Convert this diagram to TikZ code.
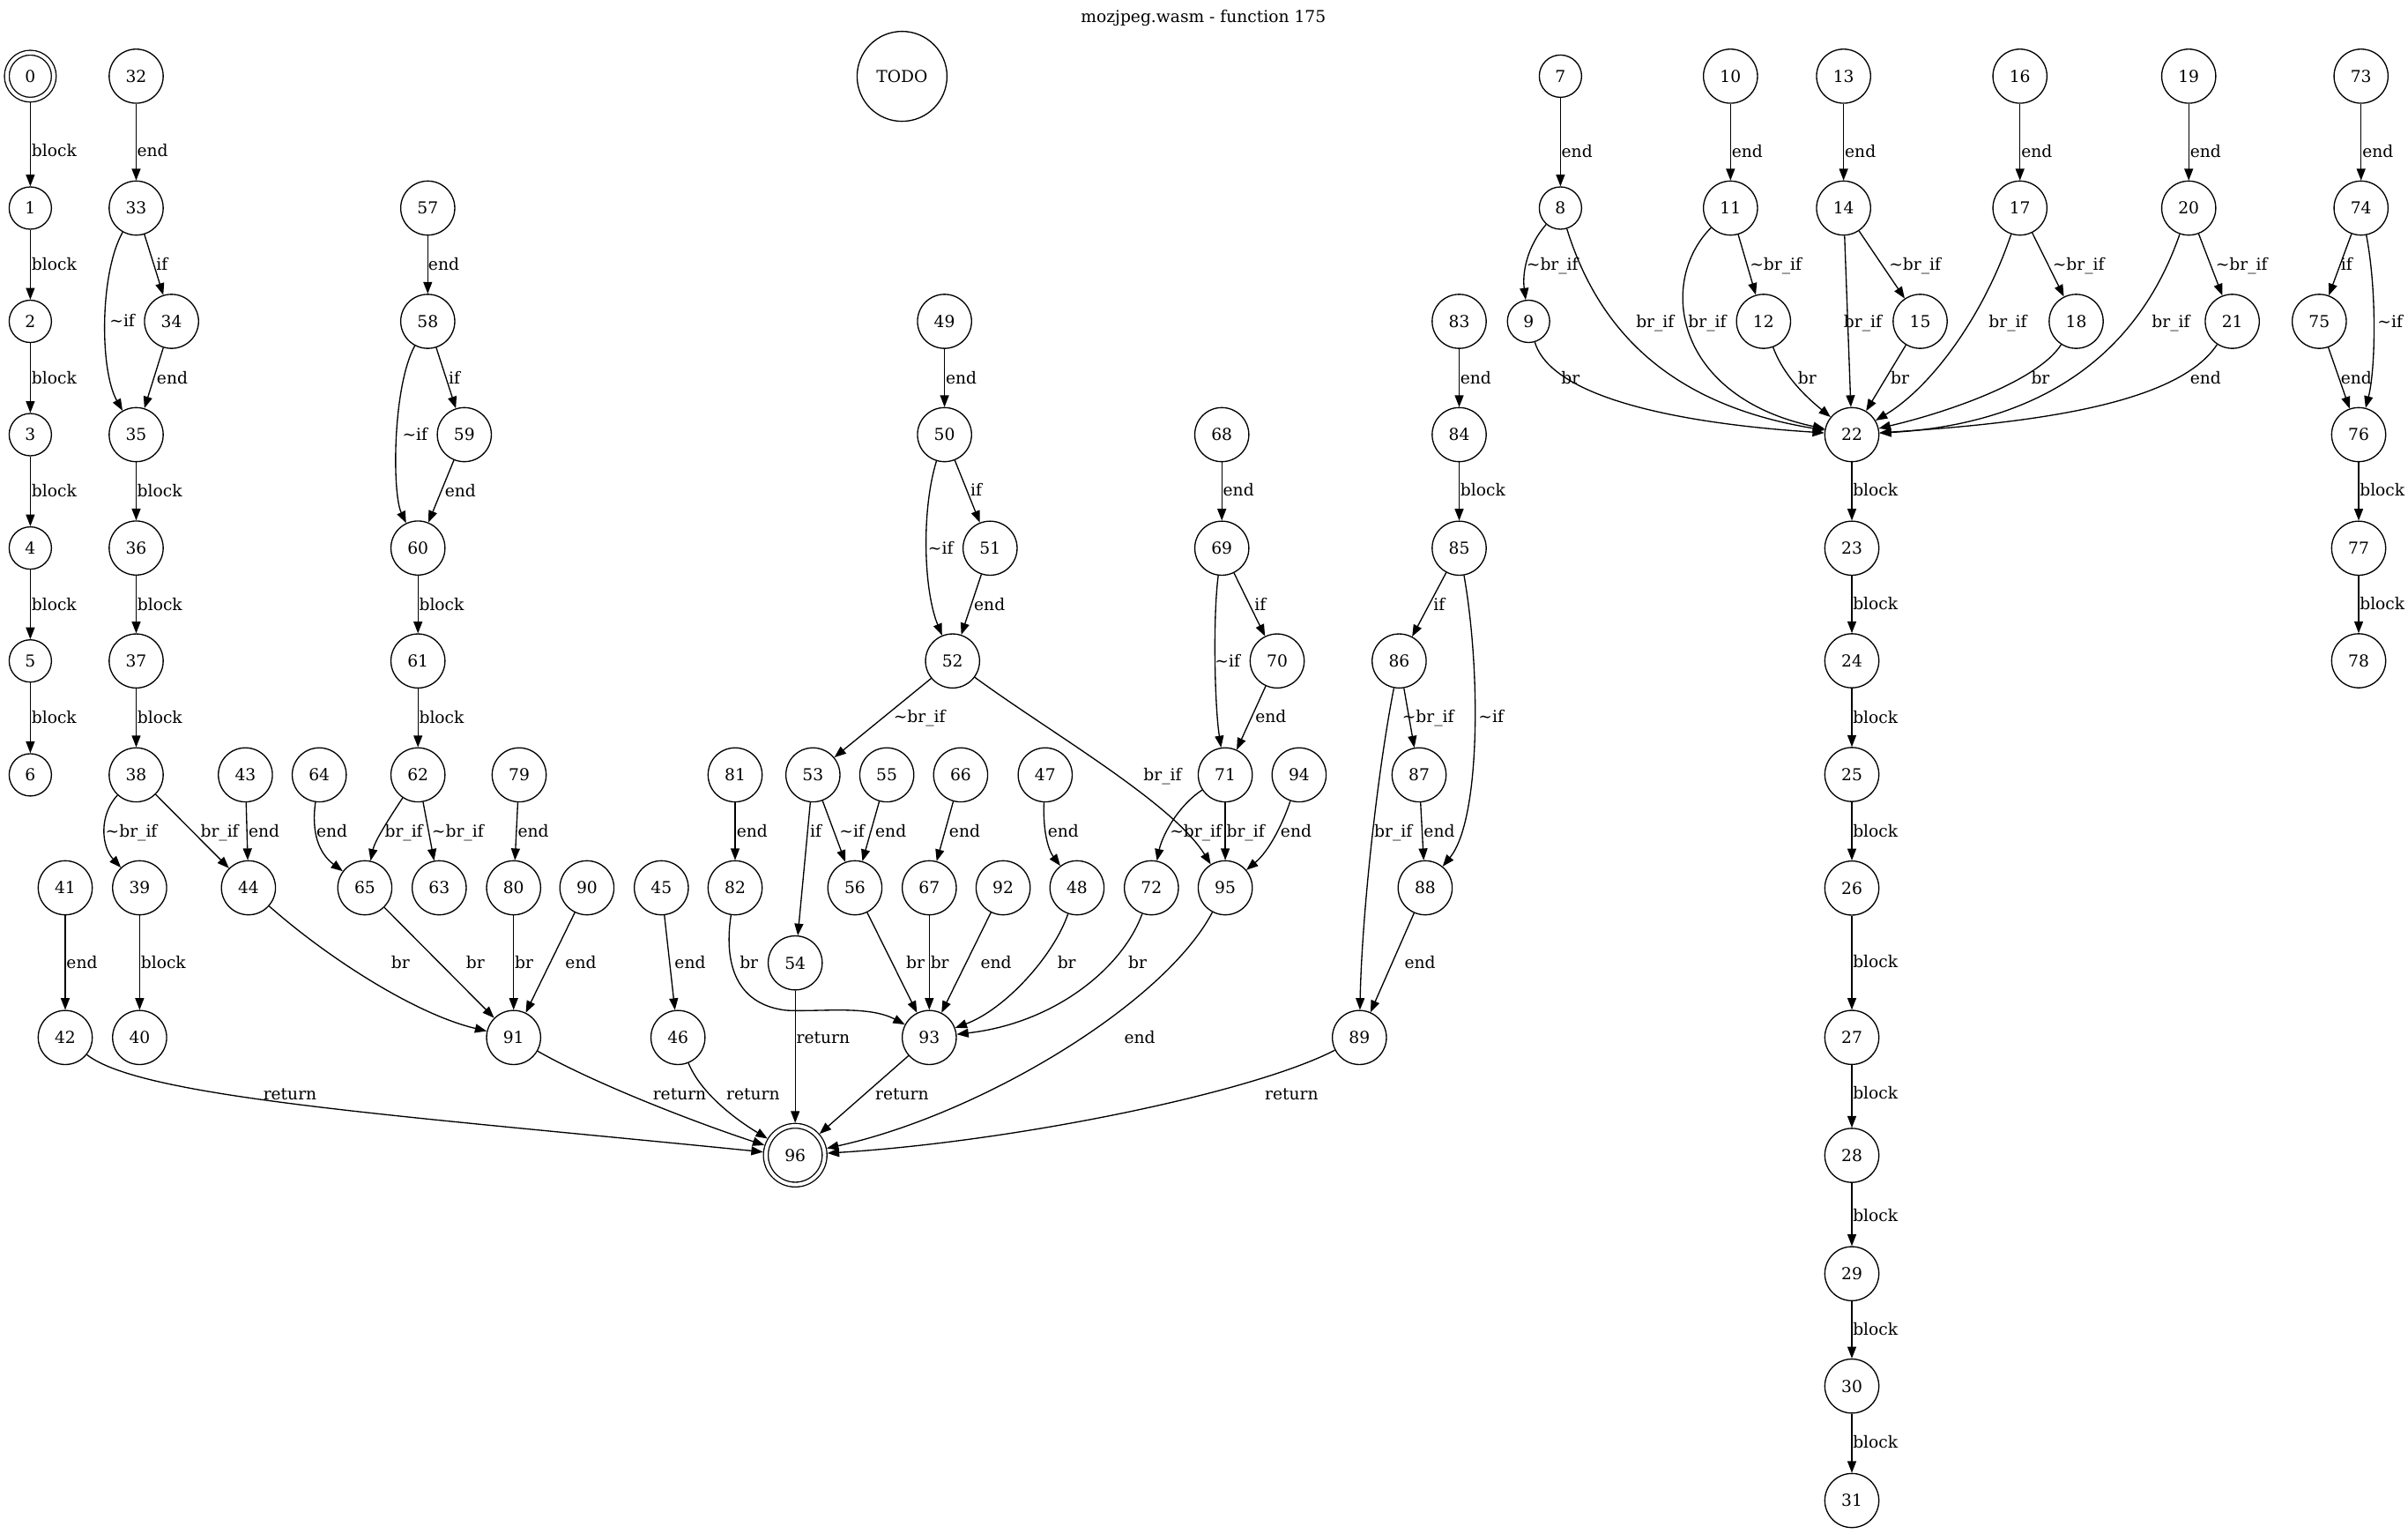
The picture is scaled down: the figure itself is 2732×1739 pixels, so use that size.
\documentclass[tikz,border=0pt]{standalone}
\usepackage{fontspec}
\setmainfont{DejaVu Serif}
\usetikzlibrary{arrows.meta}
\newcommand{\fs}{\fontsize{14pt}{16pt}\selectfont}
\newcommand{\tl}{\textasciitilde}
\begin{document}
\begin{tikzpicture}[x=0.75pt,y=-0.75pt,
 nd/.style={circle, draw, line width=1pt, inner sep=0pt, minimum size=36pt, font=\fs},
 nn/.style={nd, minimum size=46pt},
 dbl/.style={double, double distance=3pt, outer sep=2.5pt},
 lb/.style={anchor=west, inner sep=0pt, font=\fs, text height=10pt, text depth=0pt},
 e/.style={line width=1pt, -{Triangle[length=10pt,width=7.5pt]}}]
\useasboundingbox (0,0) rectangle (2732,1739);
\node[font=\fs] (title) at (1365.3,20) {mozjpeg.wasm - function 175};
% ---------- nodes ----------
\node[nd,dbl,minimum size=40pt] (n0) at (34.4,86.4) {0};
\node[nd] (n1) at (34.4,236) {1};
\node[nd] (n2) at (34.4,364.5) {2};
\node[nd] (n3) at (34.4,493) {3};
\node[nd] (n4) at (34.4,621.6) {4};
\node[nd] (n5) at (34.4,749.7) {5};
\node[nd] (n6) at (34.4,878.9) {6};
\node[nn] (n32) at (154.5,86.4) {32};
\node[nn] (n33) at (154.5,236) {33};
\node[nn] (n34) at (194.6,364.5) {34};
\node[nn] (n35) at (154.5,493) {35};
\node[nn] (n36) at (154.5,621.6) {36};
\node[nn] (n37) at (154.5,749.7) {37};
\node[nn] (n38) at (154.5,878.9) {38};
\node[nn] (n39) at (158.4,1007) {39};
\node[nn] (n40) at (158.4,1176.8) {40};
\node[nn] (n41) at (74,1007) {41};
\node[nn] (n42) at (74,1176.8) {42};
\node[nn] (n43) at (278.4,878.9) {43};
\node[nn] (n44) at (281.9,1007) {44};
\node[nn] (n57) at (485.3,236) {57};
\node[nn] (n58) at (485.3,364.5) {58};
\node[nn] (n59) at (526.8,493) {59};
\node[nn] (n60) at (474.2,621.6) {60};
\node[nn] (n61) at (474.2,749.7) {61};
\node[nn] (n62) at (474.2,878.9) {62};
\node[nn] (n63) at (498.3,1007) {63};
\node[nn] (n64) at (362.2,878.9) {64};
\node[nn] (n65) at (413.9,1007) {65};
\node[nn] (n79) at (589,878.9) {79};
\node[nn] (n80) at (582.7,1007) {80};
\node[nn] (n90) at (665.9,1007) {90};
\node[nn] (n91) at (582.7,1176.8) {91};
\node[nn] (n45) at (750.3,1007) {45};
\node[nn] (n46) at (769.2,1176.8) {46};
\node[nn] (n81) at (834,878.9) {81};
\node[nn] (n82) at (834,1007) {82};
\node[nn] (n53) at (922.3,878.9) {53};
\node[nn] (n54) at (902.2,1092.2) {54};
\node[nn] (n55) at (1006.1,878.9) {55};
\node[nn] (n56) at (969.9,1007) {56};
\node[nn] (n66) at (1089.9,878.9) {66};
\node[nn] (n67) at (1054.3,1007) {67};
\node[nn] (n92) at (1138.1,1007) {92};
\node[nn] (n47) at (1185.8,878.9) {47};
\node[nn] (n48) at (1221.9,1007) {48};
\node[nn] (n93) at (1054.3,1176.8) {93};
\node[nn,dbl,minimum size=50pt] (n96) at (902.2,1310.3) {96};
\node[nn] (n49) at (1071.6,364.5) {49};
\node[nn] (n50) at (1071.6,493) {50};
\node[nn] (n51) at (1123.3,621.8) {51};
\node[nn] (n52) at (1080.7,749.7) {52};
\node[nn] (n68) at (1386.2,493) {68};
\node[nn] (n69) at (1386.2,621.8) {69};
\node[nn] (n70) at (1449,749.7) {70};
\node[nn] (n71) at (1390.1,878.9) {71};
\node[nn] (n72) at (1306.3,1007) {72};
\node[nn] (n94) at (1473.9,878.9) {94};
\node[nn] (n95) at (1390.1,1007) {95};
\node[nn] (n83) at (1655.5,364.5) {83};
\node[nn] (n84) at (1655.5,493) {84};
\node[nn] (n85) at (1655.5,621.8) {85};
\node[nn] (n86) at (1587.4,749.7) {86};
\node[nn] (n87) at (1610,878.9) {87};
\node[nn] (n88) at (1616.9,1007) {88};
\node[nn] (n89) at (1542.3,1176.8) {89};
\node[nd,minimum size=76.5pt] (todo) at (1023.4,86.6) {TODO};
\node[nd] (n7) at (1770.4,86.4) {7};
\node[nd] (n8) at (1770.4,236) {8};
\node[nd] (n9) at (1734.2,364.5) {9};
\node[nn] (n10) at (1963.3,86.4) {10};
\node[nn] (n11) at (1963.3,236) {11};
\node[nn] (n12) at (2000.8,364.5) {12};
\node[nn] (n13) at (2091.6,86.4) {13};
\node[nn] (n14) at (2091.6,236) {14};
\node[nn] (n15) at (2178.5,364.5) {15};
\node[nn] (n16) at (2291.7,86.4) {16};
\node[nn] (n17) at (2291.7,236) {17};
\node[nn] (n18) at (2355.5,364.5) {18};
\node[nn] (n19) at (2483.2,86.4) {19};
\node[nn] (n20) at (2483.2,236) {20};
\node[nn] (n21) at (2532.6,364.5) {21};
\node[nn] (n22) at (2101,493) {22};
\node[nn] (n23) at (2101,621.8) {23};
\node[nn] (n24) at (2101,749.5) {24};
\node[nn] (n25) at (2101,878.5) {25};
\node[nn] (n26) at (2101,1007.3) {26};
\node[nn] (n27) at (2101,1176.7) {27};
\node[nn] (n28) at (2101,1310.5) {28};
\node[nn] (n29) at (2101,1444.7) {29};
\node[nn] (n30) at (2101,1572.2) {30};
\node[nn] (n31) at (2101,1702) {31};
\node[nn] (n73) at (2678.7,86.4) {73};
\node[nn] (n74) at (2678.7,236) {74};
\node[nn] (n75) at (2631.3,364.5) {75};
\node[nn] (n76) at (2676,493) {76};
\node[nn] (n77) at (2676,621.8) {77};
\node[nn] (n78) at (2676,749.5) {78};
% ---------- edges ----------
\draw[e] (n0) -- (n1);
\draw[e] (n1) -- (n2);
\draw[e] (n2) -- (n3);
\draw[e] (n3) -- (n4);
\draw[e] (n4) -- (n5);
\draw[e] (n5) -- (n6);
\draw[e] (n32) -- (n33);
\draw[e] (n33) -- (n34);
\draw[e] (n33) .. controls (113,310) and (113,420) .. (n35);
\draw[e] (n34) -- (n35);
\draw[e] (n35) -- (n36);
\draw[e] (n36) -- (n37);
\draw[e] (n37) -- (n38);
\draw[e] (n38) .. controls (112,925) and (115,960) .. (n39);
\draw[e] (n38) -- (n44);
\draw[e] (n43) -- (n44);
\draw[e] (n39) -- (n40);
\draw[e] (n41) -- (n42);
\draw[e] (n42) .. controls (160,1245) and (450,1265) .. (n96);
\draw[e] (n44) .. controls (370,1085) and (470,1150) .. (n91);
\draw[e] (n57) -- (n58);
\draw[e] (n58) -- (n59);
\draw[e] (n58) .. controls (445,440) and (445,560) .. (n60);
\draw[e] (n59) -- (n60);
\draw[e] (n60) -- (n61);
\draw[e] (n61) -- (n62);
\draw[e] (n62) .. controls (437,935) and (425,955) .. (n65);
\draw[e] (n62) -- (n63);
\draw[e] (n64) .. controls (353,945) and (362,968) .. (n65);
\draw[e] (n65) -- (n91);
\draw[e] (n79) -- (n80);
\draw[e] (n80) -- (n91);
\draw[e] (n90) -- (n91);
\draw[e] (n91) .. controls (680,1232) and (800,1277) .. (n96);
\draw[e] (n45) -- (n46);
\draw[e] (n46) .. controls (795,1240) and (835,1270) .. (n96);
\draw[e] (n81) -- (n82);
\draw[e] (n82) .. controls (820,1100) and (840,1140) .. (892,1146) .. controls (930,1148) and (985,1140) .. (n93);
\draw[e] (n49) -- (n50);
\draw[e] (n50) -- (n51);
\draw[e] (n50) .. controls (1045,580) and (1048,670) .. (n52);
\draw[e] (n51) -- (n52);
\draw[e] (n52) -- (n53);
\draw[e] (n52) .. controls (1190,830) and (1330,910) .. (n95);
\draw[e] (n53) -- (n54);
\draw[e] (n53) -- (n56);
\draw[e] (n55) -- (n56);
\draw[e] (n66) -- (n67);
\draw[e] (n47) .. controls (1183,945) and (1190,965) .. (n48);
\draw[e] (n56) -- (n93);
\draw[e] (n67) -- (n93);
\draw[e] (n92) -- (n93);
\draw[e] (n48) .. controls (1195,1085) and (1140,1145) .. (n93);
\draw[e] (n72) .. controls (1275,1095) and (1200,1160) .. (n93);
\draw[e] (n54) -- (n96);
\draw[e] (n93) -- (n96);
\draw[e] (n95) .. controls (1320,1140) and (1110,1265) .. (n96);
\draw[e] (n89) .. controls (1420,1240) and (1150,1295) .. (n96);
\draw[e] (n68) -- (n69);
\draw[e] (n69) -- (n70);
\draw[e] (n69) .. controls (1376,700) and (1378,800) .. (n71);
\draw[e] (n70) -- (n71);
\draw[e] (n71) .. controls (1335,915) and (1318,950) .. (n72);
\draw[e] (n71) -- (n95);
\draw[e] (n94) .. controls (1455,935) and (1440,965) .. (n95);
\draw[e] (n83) -- (n84);
\draw[e] (n84) -- (n85);
\draw[e] (n85) -- (n86);
\draw[e] (n85) .. controls (1680,760) and (1680,930) .. (n88);
\draw[e] (n86) -- (n87);
\draw[e] (n86) .. controls (1562,880) and (1545,1040) .. (n89);
\draw[e] (n87) -- (n88);
\draw[e] (n88) -- (n89);
\draw[e] (n7) -- (n8);
\draw[e] (n8) .. controls (1732,280) and (1727,310) .. (n9);
\draw[e] (n8) .. controls (1815,380) and (1900,460) .. (n22);
\draw[e] (n9) .. controls (1760,450) and (1900,480) .. (n22);
\draw[e] (n10) -- (n11);
\draw[e] (n11) -- (n12);
\draw[e] (n11) .. controls (1880,320) and (1900,450) .. (n22);
\draw[e] (n12) .. controls (2025,430) and (2055,455) .. (n22);
\draw[e] (n13) -- (n14);
\draw[e] (n14) -- (n15);
\draw[e] (n14) -- (n22);
\draw[e] (n15) -- (n22);
\draw[e] (n16) -- (n17);
\draw[e] (n17) -- (n18);
\draw[e] (n17) .. controls (2250,360) and (2190,440) .. (n22);
\draw[e] (n18) .. controls (2310,435) and (2200,470) .. (n22);
\draw[e] (n19) -- (n20);
\draw[e] (n20) -- (n21);
\draw[e] (n20) .. controls (2430,390) and (2330,480) .. (n22);
\draw[e] (n21) .. controls (2470,460) and (2300,480) .. (n22);
\draw[e] (n22) -- (n23);
\draw[e] (n23) -- (n24);
\draw[e] (n24) -- (n25);
\draw[e] (n25) -- (n26);
\draw[e] (n26) -- (n27);
\draw[e] (n27) -- (n28);
\draw[e] (n28) -- (n29);
\draw[e] (n29) -- (n30);
\draw[e] (n30) -- (n31);
\draw[e] (n73) -- (n74);
\draw[e] (n74) -- (n75);
\draw[e] (n74) .. controls (2697,330) and (2695,420) .. (n76);
\draw[e] (n75) -- (n76);
\draw[e] (n76) -- (n77);
\draw[e] (n77) -- (n78);
% ---------- labels ----------
\node[lb] (l0) at (35.7,171) {block};
\node[lb] (l1) at (35.7,300) {block};
\node[lb] (l2) at (35.7,428.6) {block};
\node[lb] (l3) at (35.7,557) {block};
\node[lb] (l4) at (35.6,686) {block};
\node[lb] (l5) at (35.6,814) {block};
\node[lb] (l32) at (155.4,171) {end};
\node[lb] (l33a) at (177.2,300) {if};
\node[lb] (l33b) at (124.1,364) {\tl if};
\node[lb] (l34) at (177.7,428.6) {end};
\node[lb] (l35) at (155.4,557) {block};
\node[lb] (l36) at (155.6,686) {block};
\node[lb] (l37) at (155.6,814) {block};
\node[lb] (l38a) at (119.4,943) {\tl br\_if};
\node[lb] (l38b) at (227.3,943) {br\_if};
\node[lb] (l43) at (281.9,943) {end};
\node[lb] (l41) at (75.2,1091.7) {end};
\node[lb] (l39) at (159.6,1091.7) {block};
\node[lb] (l44) at (443.7,1091.7) {br};
\node[lb] (l42) at (298.5,1241) {return};
\node[lb] (l57) at (485.7,300) {end};
\node[lb] (l58a) at (508.9,428.6) {if};
\node[lb] (l58b) at (456.3,492.5) {\tl if};
\node[lb] (l59) at (504.5,557) {end};
\node[lb] (l60) at (475.3,686) {block};
\node[lb] (l61) at (475.3,814) {block};
\node[lb] (l64) at (358.8,943) {end};
\node[lb] (l62a) at (436.3,943) {br\_if};
\node[lb] (l62b) at (489.7,943) {\tl br\_if};
\node[lb] (l79) at (587.3,943) {end};
\node[lb] (l65) at (528.7,1091.7) {br};
\node[lb] (l80) at (583.8,1091.7) {br};
\node[lb] (l90) at (641.2,1091.7) {end};
\node[lb] (l45) at (765.2,1091.7) {end};
\node[lb] (l91) at (740.5,1241) {return};
\node[lb] (l46) at (823.8,1241) {return};
\node[lb] (l81) at (835.6,943) {end};
\node[lb] (l82) at (839,1092) {br};
\node[lb] (l49) at (1072.8,428.6) {end};
\node[lb] (l50a) at (1100.9,556.3) {if};
\node[lb] (l50b) at (1052.7,621.8) {\tl if};
\node[lb] (l51) at (1104.9,685.4) {end};
\node[lb] (l52a) at (1013.5,813.2) {\tl br\_if};
\node[lb] (l52b) at (1297.1,879.1) {br\_if};
\node[lb] (l53a) at (918.8,942.5) {if};
\node[lb] (l53b) at (952.1,942.5) {\tl if};
\node[lb] (l55) at (992.9,942.5) {end};
\node[lb] (l66) at (1076.7,942.5) {end};
\node[lb] (l47) at (1188.6,942.5) {end};
\node[lb] (l56) at (1027.9,1092) {br};
\node[lb] (l67) at (1055.5,1092) {br};
\node[lb] (l92) at (1112.3,1092) {end};
\node[lb] (l48) at (1199.5,1092) {br};
\node[lb] (l72) at (1279.9,1092) {br};
\node[lb] (l54) at (903.3,1176.8) {return};
\node[lb] (l95) at (1275.3,1176.8) {end};
\node[lb] (l93) at (992.9,1241) {return};
\node[lb] (l89) at (1434.9,1241) {return};
\node[lb] (l68) at (1387.4,556.3) {end};
\node[lb] (l69a) at (1423,685.4) {if};
\node[lb] (l69b) at (1378.1,749.8) {\tl if};
\node[lb] (l70) at (1424,813.2) {end};
\node[lb] (l71a) at (1327,942.5) {\tl br\_if};
\node[lb] (l71b) at (1391.3,942.5) {br\_if};
\node[lb] (l94) at (1452.7,942.5) {end};
\node[lb] (l83) at (1656.6,428.6) {end};
\node[lb] (l84) at (1656.6,556.3) {block};
\node[lb] (l85a) at (1626.2,685.4) {if};
\node[lb] (l86a) at (1590.5,813.2) {\tl br\_if};
\node[lb] (l85b) at (1677.2,813.2) {\tl if};
\node[lb] (l86b) at (1558.9,942.5) {br\_if};
\node[lb] (l87) at (1615.2,942.5) {end};
\node[lb] (l88) at (1593.3,1092) {end};
\node[lb] (l7) at (1771.4,171.4) {end};
\node[lb] (l10) at (1964.6,171.4) {end};
\node[lb] (l13) at (2092.9,171.4) {end};
\node[lb] (l16) at (2293,171.4) {end};
\node[lb] (l19) at (2484.5,171.4) {end};
\node[lb] (l73) at (2680,171.4) {end};
\node[lb] (l8a) at (1731.6,300) {\tl br\_if};
\node[lb] (l11a) at (1985,300) {\tl br\_if};
\node[lb] (l14a) at (2143,300) {\tl br\_if};
\node[lb] (l17a) at (2328.5,300) {\tl br\_if};
\node[lb] (l20a) at (2513.5,300) {\tl br\_if};
\node[lb] (l74a) at (2655.6,300) {if};
\node[lb] (l8b) at (1856,364.6) {br\_if};
\node[lb] (l11b) at (1915.2,364.6) {br\_if};
\node[lb] (l14b) at (2091.6,364.6) {br\_if};
\node[lb] (l17b) at (2256.1,364.6) {br\_if};
\node[lb] (l20b) at (2441.1,364.6) {br\_if};
\node[lb] (l74b) at (2697.1,364.6) {\tl if};
\node[lb] (l9) at (1771.1,428.6) {br};
\node[lb] (l12) at (2039.6,428.6) {br};
\node[lb] (l15) at (2144.9,428.6) {br};
\node[lb] (l18) at (2304.2,428.6) {br};
\node[lb] (l21) at (2484.5,428.6) {end};
\node[lb] (l75) at (2655.6,428.6) {end};
\node[lb] (l22) at (2102,556) {block};
\node[lb] (l23) at (2102,685) {block};
\node[lb] (l24) at (2102,813.4) {block};
\node[lb] (l25) at (2102,942.4) {block};
\node[lb] (l26) at (2102,1091.2) {block};
\node[lb] (l27) at (2102,1240) {block};
\node[lb] (l28) at (2102,1379) {block};
\node[lb] (l29) at (2102,1508) {block};
\node[lb] (l30) at (2102,1636) {block};
\node[lb] (l76) at (2677,556) {block};
\node[lb] (l77) at (2677,685) {block};
\end{tikzpicture}
\end{document}
